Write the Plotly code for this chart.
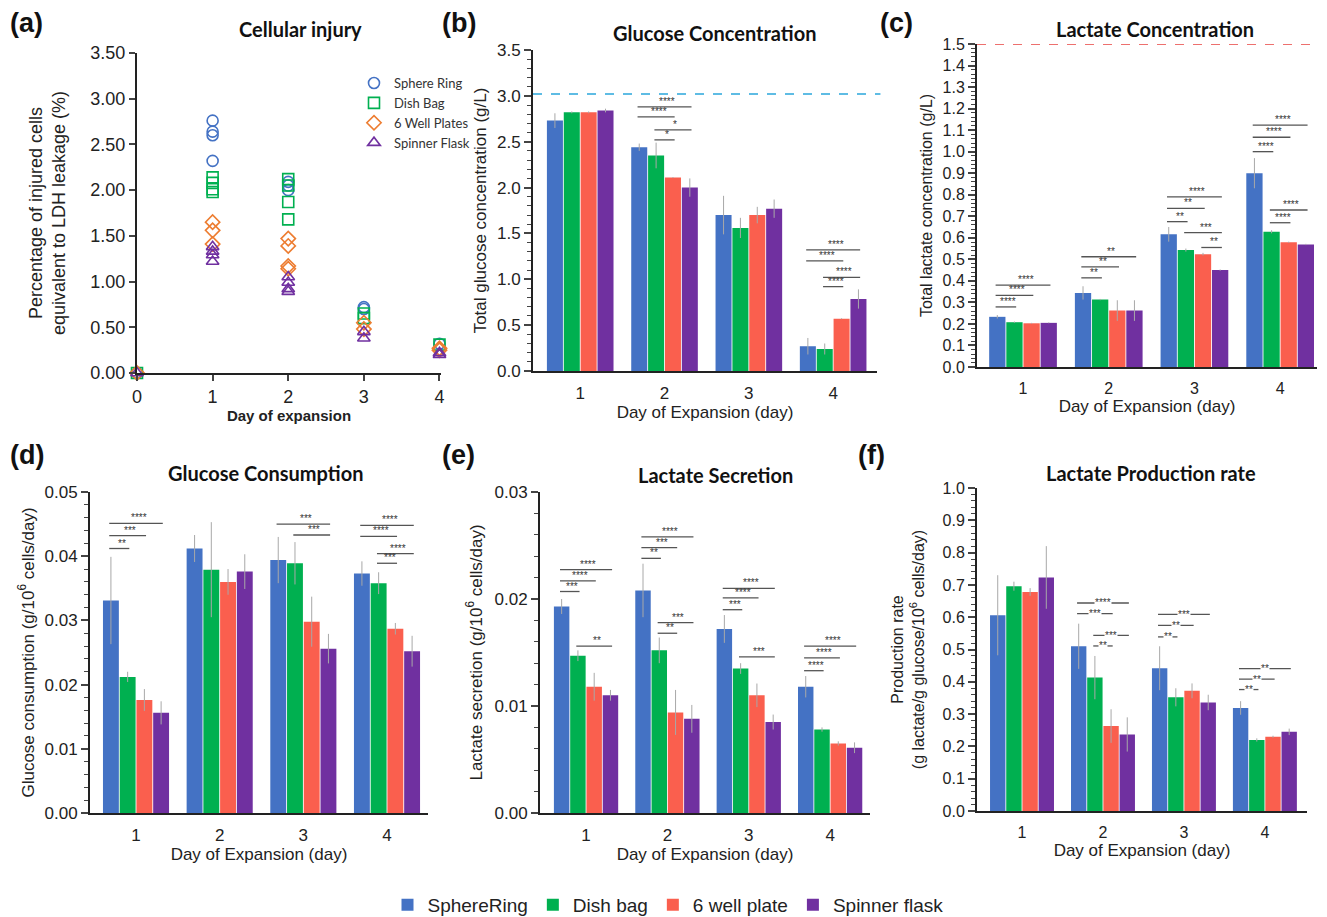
import plotly.graph_objects as go

# The page body has an 8px margin, so the figure is drawn 8px smaller and
# reference pixel positions are converted with that offset.
PAGE_W, PAGE_H, OFF = 1327, 917, 8
W, H = PAGE_W - OFF, PAGE_H - OFF
def fx(p): return (p - OFF) / W
def fy(p): return 1 - (p - OFF) / H

# ---------------- data ----------------
days = [1, 2, 3, 4]
series_names = ["SphereRing", "Dish bag", "6 well plate", "Spinner flask"]
bar_colors = ["#4472C4", "#00B050", "#FA5F4E", "#7030A0"]

# (a) Cellular injury (scatter, replicate points)
sphere_x = [0, 1, 1, 1, 1, 2, 2, 2, 3, 3, 4]
sphere_y = [0, 2.76, 2.64, 2.60, 2.32, 2.09, 2.05, 2.00, 0.72, 0.70, 0.32]
dish_x = [0, 1, 1, 1, 1, 2, 2, 2, 2, 3, 3, 4]
dish_y = [0, 2.14, 2.08, 2.01, 1.98, 2.12, 2.05, 1.87, 1.68, 0.65, 0.60, 0.31]
well_x = [0, 1, 1, 1, 2, 2, 2, 2, 3, 3, 4, 4]
well_y = [0, 1.65, 1.56, 1.41, 1.47, 1.39, 1.17, 1.14, 0.55, 0.48, 0.27, 0.25]
spinner_x = [0, 1, 1, 1, 1, 2, 2, 2, 2, 3, 3, 4, 4]
spinner_y = [0, 1.38, 1.33, 1.29, 1.22, 1.05, 0.99, 0.92, 0.89, 0.45, 0.38, 0.22, 0.20]
scatter_names = ["Sphere Ring", "Dish Bag", "6 Well Plates", "Spinner Flask"]
scatter_colors = ["#4472C4", "#00B050", "#ED7D31", "#7030A0"]
scatter_symbols = ["circle-open", "square-open", "diamond-open", "triangle-up-open"]

# (b) Glucose concentration (g/L)
glucose_conc = [[2.73, 2.44, 1.70, 0.27], [2.82, 2.35, 1.56, 0.24],
                [2.82, 2.11, 1.70, 0.57], [2.84, 2.00, 1.77, 0.785]]
glucose_conc_err = [[0.08, 0.04, 0.21, 0.09], [0.01, 0.14, 0.11, 0.06],
                    [0.01, 0.005, 0.09, 0.005], [0.02, 0.10, 0.10, 0.105]]
glucose_conc_sig = [(2, 0, 3, 2.88, "****"), (2, 0, 2, 2.77, "****"), (2, 1, 3, 2.63, "*"),
                    (2, 1, 2, 2.52, "*"), (4, 0, 3, 1.32, "****"), (4, 0, 2, 1.20, "****"),
                    (4, 1, 3, 1.02, "****"), (4, 1, 2, 0.92, "****")]
glucose_ref = 3.02

# (c) Lactate concentration (g/L)
lactate_conc = [[0.233, 0.344, 0.616, 0.90], [0.208, 0.313, 0.543, 0.628],
                [0.203, 0.262, 0.524, 0.579], [0.205, 0.262, 0.45, 0.569]]
lactate_conc_err = [[0.008, 0.031, 0.034, 0.07], [0.003, 0.003, 0.007, 0.007],
                    [0.002, 0.048, 0.006, 0.003], [0.002, 0.048, 0.003, 0.003]]
lactate_conc_sig = [(1, 0, 3, 0.38, "****"), (1, 0, 2, 0.333, "****"), (1, 0, 1, 0.279, "****"),
                    (2, 0, 3, 0.512, "**"), (2, 0, 2, 0.465, "**"), (2, 0, 1, 0.414, "**"),
                    (3, 0, 3, 0.79, "****"), (3, 0, 2, 0.737, "**"), (3, 0, 1, 0.675, "**"),
                    (3, 1, 3, 0.624, "***"), (3, 2, 3, 0.555, "**"),
                    (4, 0, 3, 1.123, "****"), (4, 0, 2, 1.067, "****"), (4, 0, 1, 1.0, "****"),
                    (4, 1, 3, 0.729, "****"), (4, 1, 2, 0.67, "****")]
lactate_ref = 1.5

# (d) Glucose consumption (g/10^6 cells/day)
glucose_cons = [[0.0331, 0.0412, 0.0394, 0.0373], [0.0212, 0.0379, 0.0389, 0.0358],
                [0.0176, 0.0360, 0.0298, 0.0287], [0.0156, 0.0376, 0.0256, 0.0252]]
glucose_cons_err = [[0.0068, 0.0021, 0.0036, 0.0019], [0.0008, 0.0074, 0.0033, 0.0017],
                    [0.0017, 0.0020, 0.0039, 0.0009], [0.0018, 0.0027, 0.0023, 0.0024]]
glucose_cons_sig = [(1, 0, 3, 0.0451, "****"), (1, 0, 2, 0.0432, "***"), (1, 0, 1, 0.0412, "**"),
                    (3, 0, 3, 0.0450, "***"), (3, 1, 3, 0.0433, "***"),
                    (4, 0, 3, 0.0448, "****"), (4, 0, 2, 0.0431, "****"),
                    (4, 1, 3, 0.0404, "****"), (4, 1, 2, 0.0389, "***")]

# (e) Lactate secretion (g/10^6 cells/day)
lactate_sec = [[0.0193, 0.0208, 0.0172, 0.0118], [0.0147, 0.0152, 0.0135, 0.0078],
               [0.0118, 0.0094, 0.0110, 0.0065], [0.0110, 0.0088, 0.0085, 0.0061]]
lactate_sec_err = [[0.0007, 0.0025, 0.0013, 0.0010], [0.0005, 0.0012, 0.0005, 0.0002],
                   [0.0013, 0.0021, 0.0011, 0.0002], [0.0005, 0.0013, 0.0007, 0.0005]]
lactate_sec_sig = [(1, 0, 3, 0.02275, "****"), (1, 0, 2, 0.0217, "****"), (1, 0, 1, 0.0207, "***"),
                   (1, 1, 3, 0.0156, "**"),
                   (2, 0, 3, 0.0258, "****"), (2, 0, 2, 0.0248, "***"), (2, 0, 1, 0.0238, "**"),
                   (2, 1, 3, 0.0178, "***"), (2, 1, 2, 0.0168, "**"),
                   (3, 0, 3, 0.0210, "****"), (3, 0, 2, 0.0201, "****"), (3, 0, 1, 0.0190, "***"),
                   (3, 1, 3, 0.0146, "***"),
                   (4, 0, 3, 0.0156, "****"), (4, 0, 2, 0.0145, "****"), (4, 0, 1, 0.0133, "****")]

# (f) Lactate production rate
lactate_rate = [[0.606, 0.51, 0.442, 0.319], [0.696, 0.413, 0.352, 0.22],
                [0.678, 0.263, 0.372, 0.23], [0.723, 0.237, 0.336, 0.245]]
lactate_rate_err = [[0.124, 0.07, 0.068, 0.021], [0.014, 0.067, 0.028, 0.005],
                    [0.012, 0.052, 0.023, 0.003], [0.097, 0.053, 0.024, 0.010]]
lactate_rate_sig = [(2, 0, 3, 0.644, "****"), (2, 0, 2, 0.611, "***"), (2, 1, 3, 0.544, "***"),
                    (2, 1, 2, 0.511, "**"), (3, 0, 3, 0.609, "***"), (3, 0, 2, 0.575, "**"),
                    (3, 0, 1, 0.539, "**"), (4, 0, 3, 0.441, "**"), (4, 0, 2, 0.408, "**"),
                    (4, 0, 1, 0.376, "**")]

# ---------------- figure ----------------
FONT = "Liberation Sans, Arial, sans-serif"
TFONT = "Lato, Open Sans, sans-serif"
fig = go.Figure()
shapes, annotations = [], []
layout = dict(width=W, height=H, margin=dict(l=0, r=0, t=0, b=0, autoexpand=False),
              plot_bgcolor="white", paper_bgcolor="white",
              barmode="group", bargap=0.2, bargroupgap=0.05,
              font=dict(family=FONT, color="#222"))

# panel (a)
for name, xs, ys, sym, col in zip(scatter_names, [sphere_x, dish_x, well_x, spinner_x],
                                  [sphere_y, dish_y, well_y, spinner_y],
                                  scatter_symbols, scatter_colors):
    fig.add_trace(go.Scatter(x=xs, y=ys, mode="markers", name=name,
                             marker=dict(symbol=sym, size=11, color=col, line=dict(width=1.6, color=col)),
                             xaxis="x", yaxis="y", legend="legend2", cliponaxis=False))
layout["xaxis"] = dict(domain=[fx(137), fx(441)], range=[0, 4.02], anchor="y", automargin=False,
                       tickvals=[0, 1, 2, 3, 4], ticks="outside", ticklen=6, tickwidth=1.5,
                       showline=True, linecolor="#222", linewidth=2, showgrid=False, zeroline=False,
                       tickfont=dict(size=18),
                       title=dict(text="<b>Day of expansion</b>", font=dict(size=15), standoff=2))
layout["yaxis"] = dict(domain=[fy(373), fy(53)], range=[0, 3.5], anchor="x", dtick=0.5,
                       automargin=False,
                       tickformat=".2f", ticks="outside", ticklen=6, tickwidth=1.5,
                       showline=True, linecolor="#222", linewidth=2, showgrid=False, zeroline=False,
                       tickfont=dict(size=18),
                       title=dict(text="Percentage of injured cells<br>equivalent to LDH leakage (%)",
                                  font=dict(size=18), standoff=20))
layout["legend2"] = dict(x=fx(354), y=fy(68), xanchor="left", yanchor="top",
                         font=dict(family=TFONT, size=13, color="#333"),
                         bgcolor="rgba(0,0,0,0)", tracegroupgap=0, itemwidth=30)

offsets = [-0.3, -0.1, 0.1, 0.3]

panels = [
    dict(ax=2, vals=glucose_conc, errs=glucose_conc_err, sig=glucose_conc_sig,
         xdom=(533, 877), ydom=(50, 371), xr=(0.44, 4.52), yr=(0, 3.5), dtick=0.5, minor=0.1,
         fmt=".1f", ytitle="Total glucose concentration (g/L)", tfs=17, legend=True,
         ref=(glucose_ref, "#2AA7DC"), stand=6),
    dict(ax=3, vals=lactate_conc, errs=lactate_conc_err, sig=lactate_conc_sig,
         xdom=(977, 1317), ydom=(44, 367), xr=(0.463, 4.43), yr=(0, 1.5), dtick=0.1, minor=0.02,
         fmt=".1f", ytitle="Total lactate concentration (g/L)", tfs=16, legend=False,
         ref=(lactate_ref, "#E8423F"), stand=6),
    dict(ax=4, vals=glucose_cons, errs=glucose_cons_err, sig=glucose_cons_sig,
         xdom=(90, 428), ydom=(492, 813), xr=(0.45, 4.49), yr=(0, 0.05), dtick=0.01, minor=0.002,
         fmt=".2f", ytitle="Glucose consumption (g/10<sup>6</sup> cells/day)", tfs=17, legend=False,
         ref=None, stand=6),
    dict(ax=5, vals=lactate_sec, errs=lactate_sec_err, sig=lactate_sec_sig,
         xdom=(540, 870), ydom=(492, 813), xr=(0.434, 4.49), yr=(0, 0.03), dtick=0.01, minor=0.002,
         fmt=".2f", ytitle="Lactate secretion (g/10<sup>6</sup> cells/day)", tfs=17, legend=False,
         ref=None, stand=8),
    dict(ax=6, vals=lactate_rate, errs=lactate_rate_err, sig=lactate_rate_sig,
         xdom=(977, 1307), ydom=(488, 811), xr=(0.444, 4.52), yr=(0, 1.0), dtick=0.1, minor=0.02,
         fmt=".1f", ytitle="Production rate<br>(g lactate/g glucose/10<sup>6</sup> cells/day)", tfs=16,
         legend=False, ref=None, gapped=True, stand=14),
]

for p in panels:
    xa, ya = f"x{p['ax']}", f"y{p['ax']}"
    for i in range(4):
        fig.add_trace(go.Bar(x=days, y=p["vals"][i], name=series_names[i],
                             marker=dict(color=bar_colors[i], line=dict(width=0)),
                             error_y=dict(type="data", array=p["errs"][i], symmetric=True,
                                          color="#A8A8A8", thickness=1, width=0),
                             xaxis=xa, yaxis=ya, showlegend=p["legend"], legend="legend"))
    layout[f"xaxis{p['ax']}"] = dict(domain=[fx(p["xdom"][0]), fx(p["xdom"][1])], range=list(p["xr"]),
                                     anchor=ya, tickvals=days, ticks="", showline=True, automargin=False,
                                     linecolor="#222", linewidth=2, showgrid=False, zeroline=False,
                                     tickfont=dict(size=p["tfs"]), ticklabelstandoff=6,
                                     title=dict(text="Day of Expansion (day)", font=dict(size=17), standoff=0))
    layout[f"yaxis{p['ax']}"] = dict(domain=[fy(p["ydom"][1]), fy(p["ydom"][0])], range=list(p["yr"]),
                                     anchor=xa, dtick=p["dtick"], tickformat=p["fmt"], automargin=False,
                                     ticks="outside", ticklen=7, tickwidth=1.5,
                                     minor=dict(dtick=p["minor"], ticks="outside", ticklen=4, tickwidth=1),
                                     showline=True, linecolor="#222", linewidth=2, showgrid=False,
                                     zeroline=False, tickfont=dict(size=p["tfs"]),
                                     title=dict(text=p["ytitle"], font=dict(size=p["tfs"]),
                                                standoff=p["stand"]))
    if p["ref"]:
        shapes.append(dict(type="line", xref=f"{xa} domain", yref=ya, x0=0, x1=1.01,
                           y0=p["ref"][0], y1=p["ref"][0], layer="above",
                           line=dict(color=p["ref"][1], width=1.6, dash="dash")))
    for d, i, j, yv, lab in p["sig"]:
        x0, x1 = d + offsets[i] - 0.02, d + offsets[j] + 0.02
        shapes.append(dict(type="line", xref=xa, yref=ya, x0=x0, x1=x1, y0=yv, y1=yv,
                           line=dict(color="#555", width=1.3)))
        if p.get("gapped"):
            annotations.append(dict(x=(x0 + x1) / 2, y=yv, xref=xa, yref=ya, text=lab,
                                    showarrow=False, font=dict(size=10, color="#333"),
                                    bgcolor="white", borderpad=0))
        else:
            annotations.append(dict(x=(x0 + x1) / 2 + 0.03, y=yv, xref=xa, yref=ya, text=lab,
                                    showarrow=False, yanchor="bottom", yshift=-2,
                                    font=dict(size=10, color="#333")))

layout["legend"] = dict(orientation="h", x=fx(668), xanchor="center", y=fy(905), yanchor="middle",
                        font=dict(size=19, color="#222"), itemwidth=30, traceorder="normal",
                        bgcolor="rgba(0,0,0,0)")

# titles and panel labels
titles = [("Cellular injury", 300, 29), ("Glucose Concentration", 715, 33),
          ("Lactate Concentration", 1155, 29), ("Glucose Consumption", 265, 473),
          ("Lactate Secretion", 715, 475), ("Lactate Production rate", 1151, 473)]
for t, x, y in titles:
    annotations.append(dict(text=f"<b>{t}</b>", x=fx(x), y=fy(y), xref="paper", yref="paper",
                            showarrow=False, xanchor="center", yanchor="middle",
                            font=dict(family=TFONT, size=20, color="#111")))
labels = [("(a)", 8, 23), ("(b)", 440, 23), ("(c)", 878, 23), ("(d)", 8, 455),
          ("(e)", 440, 455), ("(f)", 856, 455)]
for t, x, y in labels:
    annotations.append(dict(text=f"<b>{t}</b>", x=fx(x), y=fy(y), xref="paper", yref="paper",
                            showarrow=False, xanchor="left", yanchor="middle",
                            font=dict(family=FONT, size=27, color="#111")))

layout["shapes"] = shapes
layout["annotations"] = annotations
fig.update_layout(**layout)
fig.write_html("out.html")
